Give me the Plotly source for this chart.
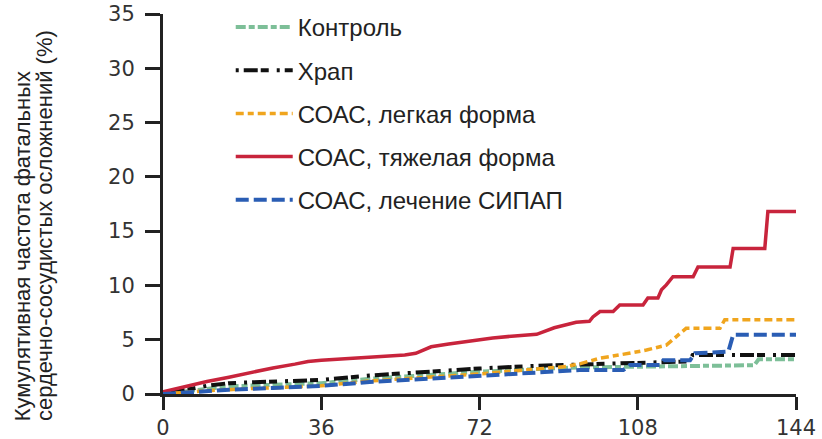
import plotly.graph_objects as go

# ---- data (months, cumulative %) ----
t_control = [0, 5, 10, 15, 25, 36, 47, 60, 72, 85, 95, 105, 120, 134.5, 135.5, 144]
v_control = [0, 0.25, 0.5, 0.7, 0.85, 1.0, 1.4, 1.75, 2.05, 2.3, 2.45, 2.5, 2.6, 2.65, 3.2, 3.2]

t_snore = [0, 5, 10, 15, 25, 36, 47, 60, 72, 85, 95, 102, 113, 119.5, 120.5, 144]
v_snore = [0, 0.4, 0.75, 1.0, 1.15, 1.3, 1.7, 2.05, 2.35, 2.6, 2.7, 2.85, 2.95, 3.0, 3.6, 3.6]

t_mild = [0, 10, 20, 36, 47, 60, 72, 85, 92, 95, 99.4, 106, 110, 114.5, 116.8, 119, 126.7, 127.8, 144]
v_mild = [0, 0.3, 0.5, 0.75, 1.2, 1.5, 1.85, 2.3, 2.55, 2.8, 3.3, 3.75, 4.05, 4.5, 5.3, 6.05, 6.05, 6.85, 6.85]

t_severe = [0, 5, 10, 15, 20, 25, 30, 33, 36, 40, 45, 50, 55, 57.5, 59.5, 61, 65, 70, 75, 80, 85,
            89, 94, 97, 97.8, 99.4, 102.4, 103.9, 109.2, 110.3, 112.6, 113.4, 114.5, 116,
            120.6, 121.7, 129, 129.7, 136.9, 137.6, 144]
v_severe = [0.2, 0.7, 1.15, 1.55, 2.0, 2.4, 2.75, 3.0, 3.1, 3.2, 3.35, 3.5, 3.6, 3.75, 4.1, 4.35, 4.6, 4.9, 5.15, 5.35, 5.5,
            6.1, 6.6, 6.7, 7.1, 7.6, 7.6, 8.2, 8.2, 8.85, 8.85, 9.6, 10.05, 10.8,
            10.8, 11.7, 11.7, 13.4, 13.4, 16.8, 16.8]

t_cpap = [0, 5, 10, 15, 25, 36, 47, 60, 72, 85, 94.8, 104.7, 106.2, 113, 113.8, 119.9, 121, 128.6, 129.3, 129.7, 144]
v_cpap = [0, 0.15, 0.3, 0.4, 0.55, 0.75, 1.1, 1.4, 1.75, 2.0, 2.2, 2.2, 2.67, 2.67, 3.1, 3.1, 3.75, 3.9, 5.0, 5.45, 5.45]

series_names = ["Контроль", "Храп", "СОАС, легкая форма", "СОАС, тяжелая форма", "СОАС, лечение СИПАП"]
x_ticks = [0, 36, 72, 108, 144]
y_ticks = [0, 5, 10, 15, 20, 25, 30, 35]

y_title_1 = "Кумулятивная частота фатальных"
y_title_2 = "сердечно-сосудистых осложнений (%)"

# ---- styles ----
styles = [
    dict(color="#7dbf98", width=4, dash="10px,3px,6px,3px"),
    dict(color="#111111", width=4, dash="3px,5px,14px,3px,8px,8px"),
    dict(color="#f0a51e", width=3.5, dash="8px,4px,6px,4px"),
    dict(color="#c8243c", width=3.5, dash="solid"),
    dict(color="#2a5db4", width=4, dash="13px,5px"),
]
data = [(t_control, v_control), (t_snore, v_snore), (t_mild, v_mild),
        (t_severe, v_severe), (t_cpap, v_cpap)]

fig = go.Figure()
for i in range(5):
    t, v = data[i]
    fig.add_trace(go.Scatter(
        x=t, y=v, mode="lines", name=series_names[i],
        line=styles[i], legendgroup=str(i), legendrank=i + 1,
    ))

fig.update_layout(
    width=822, height=439,
    margin=dict(l=163, r=26, t=14, b=45, autoexpand=False),
    paper_bgcolor="white", plot_bgcolor="white",
    font=dict(family="Liberation Sans, Arial", color="#222"),
    showlegend=True,
    legend=dict(
        x=0.107, y=1.024, xanchor="left", yanchor="top",
        font=dict(size=24, family="Liberation Sans, Arial", color="#222"),
        bgcolor="rgba(0,0,0,0)", itemwidth=57,
        tracegroupgap=9,
    ),
    xaxis=dict(
        range=[0, 144], tickvals=x_ticks, ticktext=[str(v) for v in x_ticks],
        showgrid=False, zeroline=False, showline=True, linecolor="#222", linewidth=3,
        ticks="outside", ticklen=13, tickwidth=3, tickcolor="#222",
        tickfont=dict(family="DejaVu Sans", size=21, color="#333"),
    ),
    yaxis=dict(
        range=[0, 35], tickvals=y_ticks,
        showgrid=False, zeroline=False, showline=True, linecolor="#222", linewidth=3,
        ticks="outside", ticklen=15, tickwidth=3, tickcolor="#222",
        tickfont=dict(family="DejaVu Sans", size=21, color="#333"),
        ticklabelstandoff=6,
    ),
)

fig.add_annotation(text=y_title_1, textangle=-90, xref="paper", yref="paper",
                   x=-0.222, y=-0.076, xanchor="center", yanchor="bottom",
                   showarrow=False, font=dict(size=22, family="Liberation Sans, Arial", color="#222"))
fig.add_annotation(text=y_title_2, textangle=-90, xref="paper", yref="paper",
                   x=-0.187, y=-0.076, xanchor="center", yanchor="bottom",
                   showarrow=False, font=dict(size=22, family="Liberation Sans, Arial", color="#222"))

fig.write_html("out.html")
